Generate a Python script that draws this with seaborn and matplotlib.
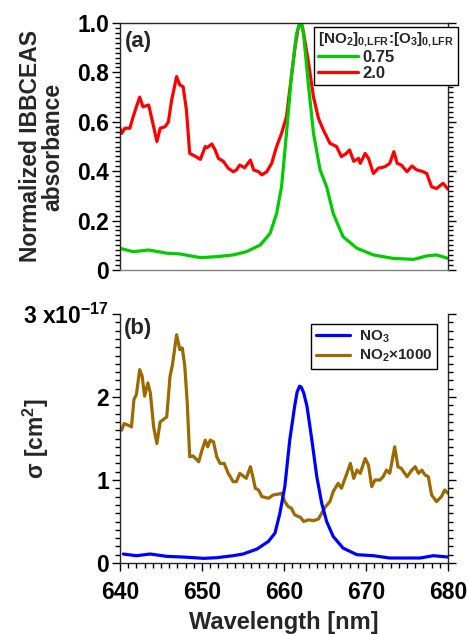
import numpy as np
import pandas as pd
import matplotlib
matplotlib.use("Agg")
import matplotlib.pyplot as plt
import seaborn as sns
from matplotlib.ticker import MultipleLocator, FixedLocator

# ---------------- data ----------------
wl_red = [640.0, 640.2, 640.6, 641.2, 641.6, 642.0, 642.4, 642.8, 643.5, 644.1, 644.5, 644.9,
          645.5, 645.9, 646.3, 646.9, 647.3, 647.7, 648.1, 648.5, 649.1, 649.8, 650.4, 650.6,
          651.2, 651.6, 652.0, 652.6, 653.2, 653.8, 654.2, 654.6, 655.2, 655.9, 656.3, 656.9,
          657.3, 657.9, 658.5, 659.1, 659.7, 660.3, 660.7, 661.3, 661.7, 662.0, 662.2, 662.4,
          663.0, 663.6,
          664.2, 664.8, 665.6, 666.4, 667.0, 667.6, 668.0, 668.5, 669.1, 669.3, 669.9, 670.3,
          670.9, 671.5, 672.3, 672.9, 673.4, 673.8, 674.3, 675.0, 675.6, 676.2, 676.8, 677.4,
          678.0, 678.6, 679.4, 680.0]
abs_red = [0.574, 0.553, 0.574, 0.574, 0.620, 0.661, 0.700, 0.661, 0.668, 0.580, 0.520, 0.574,
           0.580, 0.600, 0.688, 0.783, 0.749, 0.742, 0.648, 0.472, 0.462, 0.448, 0.500, 0.495,
           0.510, 0.486, 0.452, 0.440, 0.412, 0.398, 0.405, 0.425, 0.414, 0.445, 0.405, 0.398,
           0.385, 0.398, 0.432, 0.500, 0.553, 0.620, 0.729, 0.890, 0.975, 1.000, 0.990, 0.957,
           0.837, 0.700,
           0.614, 0.567, 0.513, 0.500, 0.459, 0.472, 0.486, 0.440, 0.452, 0.432, 0.472, 0.452,
           0.391, 0.412, 0.418, 0.432, 0.479, 0.432, 0.425, 0.398, 0.421, 0.405, 0.400, 0.391,
           0.337, 0.330, 0.351, 0.327]

wl_green = [640.0, 641.6, 643.5, 645.7, 647.3, 649.8, 651.8, 653.8, 655.4, 657.1, 658.3, 659.1,
            659.7, 660.3, 660.9, 661.5, 661.8, 662.0, 662.2, 662.4, 663.0, 663.6, 664.4, 665.2,
            666.0, 667.2, 668.9, 670.9, 673.3, 675.8, 677.4, 678.6, 680.0]
abs_green = [0.088, 0.074, 0.081, 0.068, 0.065, 0.050, 0.054, 0.061, 0.074, 0.101, 0.148, 0.229,
             0.337, 0.553, 0.783, 0.950, 0.990, 1.000, 0.990, 0.950, 0.742, 0.553, 0.405, 0.337,
             0.229, 0.135, 0.088, 0.061, 0.047, 0.043, 0.057, 0.061, 0.047]

# cross sections in units of 1e-17 cm^2
wl_no2 = [640.2, 640.5, 641.0, 641.4, 641.7, 642.0, 642.4, 642.7, 643.0, 643.4, 643.7, 644.1,
          644.5, 644.9, 645.3, 645.7, 646.1, 646.4, 646.9, 647.3, 647.6, 647.9, 648.2, 648.5,
          648.9, 649.6, 650.0, 650.4, 650.7, 651.0, 651.4, 651.8, 652.2, 652.7, 653.2, 653.8,
          654.2, 654.6, 655.0, 655.4, 655.9, 656.2, 656.5, 656.9, 657.3, 657.7, 658.1, 658.7,
          659.3, 659.7, 660.1, 660.5, 660.9, 661.3, 662.0, 662.4, 663.0, 663.6, 664.2, 664.6,
          665.0, 665.6, 666.0, 666.6, 667.0, 667.6, 668.1, 668.5, 668.9, 669.3, 669.9, 670.3,
          670.7, 671.1, 671.7, 672.1, 672.5, 672.9, 673.5, 673.9, 674.3, 675.0, 675.6, 676.0,
          676.4, 676.8, 677.2, 677.6, 678.0, 678.6, 679.2, 679.6, 680.0]
sig_no2 = [1.60, 1.68, 1.66, 1.64, 1.97, 2.03, 2.33, 2.25, 2.01, 2.17, 2.05, 1.64,
           1.44, 1.70, 1.73, 1.76, 2.25, 2.39, 2.75, 2.57, 2.59, 2.37, 1.93, 1.28,
           1.29, 1.22, 1.36, 1.48, 1.40, 1.48, 1.46, 1.28, 1.20, 1.20, 1.08, 0.98,
           0.98, 1.08, 1.05, 1.02, 1.16, 1.04, 0.90, 0.88, 0.80, 0.79, 0.78, 0.82,
           0.83, 0.84, 0.74, 0.68, 0.66, 0.58, 0.55, 0.50, 0.52, 0.51, 0.53, 0.60,
           0.67, 0.74, 0.86, 0.96, 0.90, 1.06, 1.20, 1.02, 1.12, 1.08, 1.26, 1.18,
           0.92, 1.00, 1.00, 1.04, 1.12, 1.08, 1.40, 1.16, 1.14, 1.04, 1.12, 1.16,
           1.08, 1.12, 1.06, 1.04, 0.82, 0.74, 0.80, 0.88, 0.84]

wl_no3 = [640.4, 642.0, 643.7, 645.7, 647.7, 650.2, 651.8, 653.8, 655.0, 656.7, 658.1, 658.9,
          659.5, 660.1, 660.7, 661.3, 661.6, 661.9, 662.1, 662.4, 662.8, 663.4, 664.0, 664.6,
          665.2, 666.0, 667.2, 668.9, 670.9, 672.9, 675.0, 676.6, 678.2, 680.0]
sig_no3 = [0.108, 0.088, 0.108, 0.080, 0.072, 0.056, 0.064, 0.088, 0.108, 0.168, 0.260, 0.360,
           0.600, 0.920, 1.480, 1.890, 2.060, 2.130, 2.120, 2.050, 1.890, 1.480, 1.040, 0.720,
           0.500, 0.320, 0.180, 0.100, 0.088, 0.060, 0.060, 0.060, 0.088, 0.072]

ratio_labels = ["0.75", "2.0"]
species_labels = ["NO$_3$", "NO$_2$\u00d71000"]
yticks_a = [0, 0.2, 0.4, 0.6, 0.8, 1.0]
yticklabels_a = ["0", "0.2", "0.4", "0.6", "0.8", "1.0"]
yticks_b = [0, 1, 2, 3]
yticklabels_b = ["0", "1", "2", "3 x10$^{-17}$"]
xticks = [640, 650, 660, 670, 680]

# ---------------- styling ----------------
sns.set_theme(style="ticks")
plt.rcParams['font.family'] = ['Liberation Sans', 'DejaVu Sans']
plt.rcParams['font.weight'] = 'bold'
plt.rcParams['mathtext.default'] = 'regular'
plt.rcParams['axes.linewidth'] = 1.0

FS = 16.5
LFS = 16.5
GREEN = "#00CC00"
RED = "#FF0000"
BLUE = "#0000FF"
BROWN = "#9C6A00"

df_a = pd.concat([
    pd.DataFrame({"wl": wl_green, "val": abs_green, "ratio": ratio_labels[0]}),
    pd.DataFrame({"wl": wl_red, "val": abs_red, "ratio": ratio_labels[1]}),
], ignore_index=True)
df_b = pd.concat([
    pd.DataFrame({"wl": wl_no3, "val": sig_no3, "species": species_labels[0]}),
    pd.DataFrame({"wl": wl_no2, "val": sig_no2, "species": species_labels[1]}),
], ignore_index=True)

fig = plt.figure(figsize=(4.68, 6.34), dpi=100)
ax_a = fig.add_axes([120/468, 1-270/634, 328/468, 247/634])
ax_b = fig.add_axes([120/468, 1-563/634, 328/468, 249/634])

sns.lineplot(data=df_a, x="wl", y="val", hue="ratio", hue_order=ratio_labels[::-1],
             palette={ratio_labels[0]: GREEN, ratio_labels[1]: RED},
             estimator=None, sort=False, lw=2.3, ax=ax_a, legend=False)
sns.lineplot(data=df_b, x="wl", y="val", hue="species", hue_order=species_labels[::-1],
             palette={species_labels[0]: BLUE, species_labels[1]: BROWN},
             estimator=None, sort=False, lw=2.3, ax=ax_b, legend=False)

for ax in (ax_a, ax_b):
    ax.set_xlim(640, 680)
    ax.tick_params(axis='both', which='both', direction='out', colors='black',
                   labelsize=FS, width=1.0)
    ax.tick_params(axis='y', which='major', length=6, pad=2, left=True, right=True)
    ax.tick_params(axis='y', which='minor', length=3.5, left=True, right=True)

# panel a
ax_a.set_ylim(0, 1.0)
ax_a.yaxis.set_major_locator(FixedLocator(yticks_a))
ax_a.set_yticklabels(yticklabels_a, fontsize=FS, fontweight='bold')
ax_a.yaxis.set_minor_locator(MultipleLocator(0.02))
ax_a.tick_params(axis='x', which='both', bottom=False, labelbottom=False)
ax_a.spines['bottom'].set_color('#808080')
ax_a.set_xlabel("")
ax_a.set_ylabel("Normalized IBBCEAS\nabsorbance", fontsize=LFS, fontweight='bold',
                linespacing=0.95)
ax_a.yaxis.set_label_coords(-0.17, 0.5)
ax_a.text(0.015, 0.968, "(a)", transform=ax_a.transAxes, ha='left', va='top',
          fontsize=16, fontweight='bold')
handles_a = [plt.Line2D([], [], color=GREEN, lw=2.3), plt.Line2D([], [], color=RED, lw=2.3)]
leg_a = ax_a.legend(handles_a, ratio_labels,
                    title="[NO$_2$]$_{0,\\!LFR}$:[O$_3$]$_{0,\\!LFR}$",
                    loc='upper right', bbox_to_anchor=(1.0305, 0.984),
                    frameon=True, fancybox=False, framealpha=1, edgecolor='black',
                    prop={'size': 12, 'weight': 'bold'},
                    title_fontproperties={'size': 11, 'weight': 'bold'},
                    handlelength=2.4, handletextpad=0.25, borderpad=0.25,
                    labelspacing=0.05, borderaxespad=0, alignment='left')
leg_a.get_frame().set_linewidth(1.0)

# panel b
ax_b.set_ylim(0, 3)
ax_b.yaxis.set_major_locator(FixedLocator(yticks_b))
ax_b.set_yticklabels(yticklabels_b, fontsize=FS, fontweight='bold')
ax_b.yaxis.set_minor_locator(MultipleLocator(0.1))
ax_b.xaxis.set_major_locator(FixedLocator(xticks))
ax_b.xaxis.set_minor_locator(MultipleLocator(1))
ax_b.tick_params(axis='x', which='major', length=6, pad=7, bottom=True)
ax_b.tick_params(axis='x', which='minor', length=3.5, bottom=True)
ax_b.spines['top'].set_visible(False)
ax_b.set_xlabel("Wavelength [nm]", fontsize=17, fontweight='bold', labelpad=5)
ax_b.set_ylabel("\u03c3 [cm$^2$]", fontsize=LFS, fontweight='bold')
ax_b.yaxis.set_label_coords(-0.21, 0.5)
ax_b.text(0.012, 0.984, "(b)", transform=ax_b.transAxes, ha='left', va='top',
          fontsize=16, fontweight='bold')
handles_b = [plt.Line2D([], [], color=BLUE, lw=2.3), plt.Line2D([], [], color=BROWN, lw=2.3)]
leg_b = ax_b.legend(handles_b, species_labels, loc='upper right',
                    bbox_to_anchor=(0.966, 0.960),
                    frameon=True, fancybox=False, framealpha=1, edgecolor='black',
                    prop={'size': 11, 'weight': 'bold'},
                    handlelength=2.2, handletextpad=0.6, borderpad=0.3,
                    labelspacing=0.2, borderaxespad=0)
leg_b.get_frame().set_linewidth(1.0)

fig.savefig("out.png", dpi=100)
